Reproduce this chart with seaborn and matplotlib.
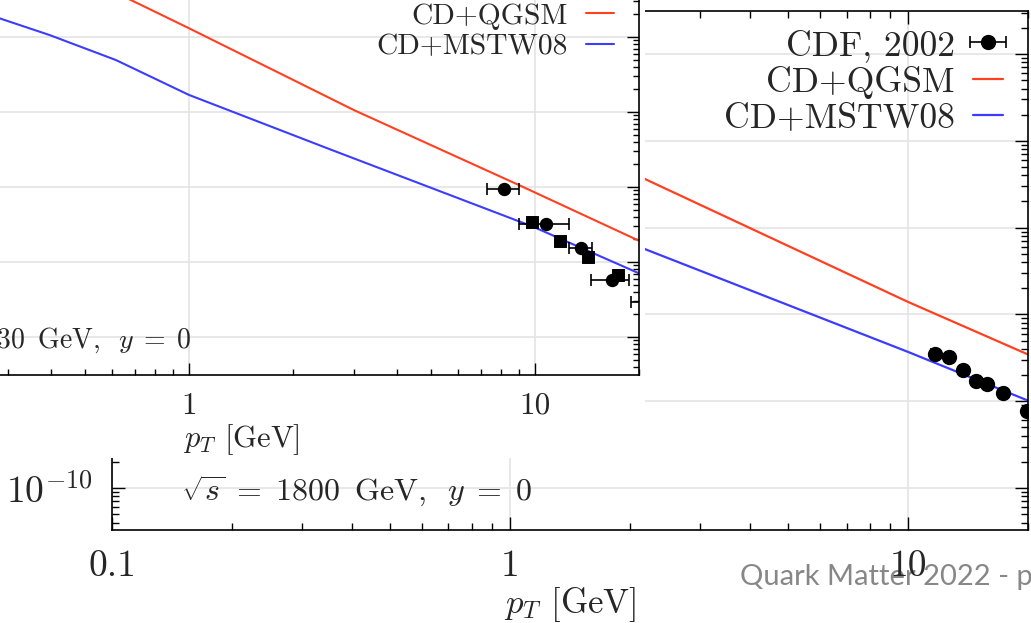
import numpy as np
import pandas as pd
import matplotlib
matplotlib.use("Agg")
import matplotlib.pyplot as plt
import seaborn as sns
from matplotlib.ticker import LogLocator, NullFormatter
from matplotlib.patches import Rectangle

# ---------------- data ----------------
# Front panel (sqrt(s) = 630 GeV)
front_qgsm_pt = [0.6, 0.68, 1.0, 3.0, 9.0, 20.0]
front_qgsm_val = [4.07e-5, 3.11e-5, 1.31e-5, 1.06e-6, 1.06e-7, 1.92e-8]
front_mstw_pt = [0.2, 0.284, 0.396, 0.615, 1.0, 2.59, 9.87, 20.0]
front_mstw_val = [3.02e-5, 1.77e-5, 1.06e-5, 4.93e-6, 1.69e-6, 3.11e-7, 2.96e-8, 7.06e-9]
front_circ_pt = [8.15, 10.76, 13.59, 16.66, 22.0]
front_circ_val = [9.31e-8, 3.21e-8, 1.52e-8, 5.75e-9, 2.93e-9]
front_circ_xerr = [0.86, 1.75, 1.0, 2.1, 3.1]
front_sq_pt = [9.82, 11.81, 14.2, 17.34]
front_sq_val = [3.38e-8, 1.92e-8, 1.18e-8, 6.71e-9]

# Back panel (sqrt(s) = 1800 GeV)
back_qgsm_pt = [2.0, 2.21, 10.0, 20.4]
back_qgsm_val = [4.36e-7, 3.53e-7, 1.39e-8, 3.32e-9]
back_mstw_pt = [2.0, 2.21, 10.0, 20.4]
back_mstw_val = [6.61e-8, 5.52e-8, 3.69e-9, 9.79e-10]
cdf_pt = [11.66, 12.69, 13.73, 14.78, 15.81, 17.34, 19.87]
cdf_val = [3.52e-9, 3.21e-9, 2.31e-9, 1.69e-9, 1.58e-9, 1.24e-9, 7.66e-10]
cdf_xerr = [0.25, 0.25, 0.25, 0.25, 0.25, 0.25, 0.25]

x_ticks = [0.1, 1, 10]
x_ticklabels = ["0.1", "1", "10"]
y_ticks = [1e-10, 1e-9, 1e-8, 1e-7, 1e-6, 1e-5, 1e-4]
y_ticklabels = [r"$10^{-10}$", r"$10^{-9}$", r"$10^{-8}$", r"$10^{-7}$",
                r"$10^{-6}$", r"$10^{-5}$", r"$10^{-4}$"]
series_labels = ["CDF, 2002", "CD+QGSM", "CD+MSTW08"]
front_note = r"$\sqrt{s}\;=\;630\;\;\mathrm{GeV},\;\;y\;=\;0$"
back_note = r"$\sqrt{s}\;=\;1800\;\;\mathrm{GeV},\;\;y\;=\;0$"

RED = "#ff4020"
BLUE = "#3c3cff"

# ---------------- style ----------------
sns.set_style("ticks")
plt.rcParams.update({
    "font.family": ["cmr10"],
    "mathtext.fontset": "cm",
    "axes.unicode_minus": False,
    "axes.formatter.use_mathtext": True,
})

W, H = 1031, 623
fig = plt.figure(figsize=(W / 100, H / 100), dpi=100)
fig.patch.set_facecolor("white")


def box(l, t, r, b):
    return [l / W, 1 - b / H, (r - l) / W, (b - t) / H]


def style(ax, fs, maj, mino, pad):
    ax.set_xscale("log")
    ax.set_yscale("log")
    ax.set_axisbelow(True)
    ax.grid(True, which="major", color="#e4e4e4", lw=1.2)
    ax.grid(False, which="minor")
    ax.tick_params(which="both", direction="in", top=True, right=True,
                   left=True, bottom=True, color="black", width=1.0)
    ax.tick_params(which="major", length=maj, labelsize=fs, pad=pad)
    ax.tick_params(which="minor", length=mino)
    for s in ax.spines.values():
        s.set_linewidth(1.2)
        s.set_color("black")
    ax.set_xticks(x_ticks)
    ax.set_xticklabels(x_ticklabels)
    ax.set_yticks(y_ticks)
    ax.set_yticklabels(y_ticklabels)
    ax.xaxis.set_minor_locator(LogLocator(base=10, subs=np.arange(2, 10), numticks=100))
    ax.yaxis.set_minor_locator(LogLocator(base=10, subs=np.arange(2, 10), numticks=100))
    ax.xaxis.set_minor_formatter(NullFormatter())
    ax.yaxis.set_minor_formatter(NullFormatter())


# ---------------- back plot (1800 GeV) ----------------
back = fig.add_axes(box(112, 11, 1028, 530), zorder=0)
back.set_xscale("log")
back.set_yscale("log")
sns.lineplot(x=back_qgsm_pt, y=back_qgsm_val, ax=back, color=RED, lw=1.6,
             errorbar=None, sort=False)
l_red_b = back.lines[-1]
sns.lineplot(x=back_mstw_pt, y=back_mstw_val, ax=back, color=BLUE, lw=1.6,
             errorbar=None, sort=False)
l_blue_b = back.lines[-1]
eb_b = back.errorbar(cdf_pt, cdf_val, xerr=cdf_xerr, fmt="o", color="black",
                     ms=10, capsize=4, elinewidth=1.2, capthick=1.2, zorder=3)
style(back, 27, 9.5, 5, 14)
back.set_xlim(0.1, 20.0)
back.set_ylim(10 ** -10.484, 10 ** -4.505)
back.set_xlabel(r"$p_T$ [GeV]", fontsize=25, labelpad=2)
back.text(181 / W, 1 - 491 / H, back_note,
          transform=fig.transFigure, fontsize=23, ha="left", va="center")
back.legend(handles=[eb_b, l_red_b, l_blue_b], labels=series_labels,
            loc="upper right", bbox_to_anchor=(1003 / W, 1 - 29 / H),
            bbox_transform=fig.transFigure, frameon=False, markerfirst=False,
            fontsize=25.7, handlelength=0.85, handletextpad=0.5,
            labelspacing=0.11, borderpad=0, borderaxespad=0)

# white panel of the front picture
fig.add_artist(Rectangle((0, 1 - 458 / H), 645 / W, 458 / H,
                         transform=fig.transFigure, facecolor="white",
                         edgecolor="none", zorder=1))

# ---------------- front plot (630 GeV) ----------------
front = fig.add_axes(box(-157, -38, 639, 375), zorder=2)
front.set_xscale("log")
front.set_yscale("log")
sns.lineplot(x=front_qgsm_pt, y=front_qgsm_val, ax=front, color=RED, lw=1.5,
             errorbar=None, sort=False)
l_red_f = front.lines[-1]
sns.lineplot(x=front_mstw_pt, y=front_mstw_val, ax=front, color=BLUE, lw=1.5,
             errorbar=None, sort=False)
l_blue_f = front.lines[-1]
front.errorbar(front_circ_pt, front_circ_val, xerr=front_circ_xerr, fmt="o",
               color="black", ms=8.6, capsize=4, elinewidth=1.2, capthick=1.2,
               zorder=3)
sns.scatterplot(x=front_sq_pt, y=front_sq_val, ax=front, marker="s",
                color="black", s=75, edgecolor="black", zorder=4)
style(front, 22.5, 8.5, 4.5, 12)
front.set_xlim(0.1, 20.0)
front.set_ylim(10 ** -9.507, 1e-4)
front.set_xlabel(r"$p_T$ [GeV]", fontsize=22, labelpad=2)
front.text(192 / W, 1 - 340 / H, front_note,
           transform=fig.transFigure, fontsize=20, ha="right", va="center")
front.legend(handles=[l_red_f, l_blue_f], labels=series_labels[1:],
             loc="upper right", bbox_to_anchor=(614 / W, 1 - 3 / H),
             bbox_transform=fig.transFigure, frameon=False, markerfirst=False,
             fontsize=21.3, handlelength=0.95, handletextpad=0.6,
             labelspacing=0.135, borderpad=0, borderaxespad=0)

# slide footer
fig.text(740 / W, 1 - 577 / H, "Quark Matter 2022 - p", family="Lato",
         fontsize=21, color="#878787", ha="left", va="center", zorder=-1)

fig.savefig("out.png", dpi=100)
